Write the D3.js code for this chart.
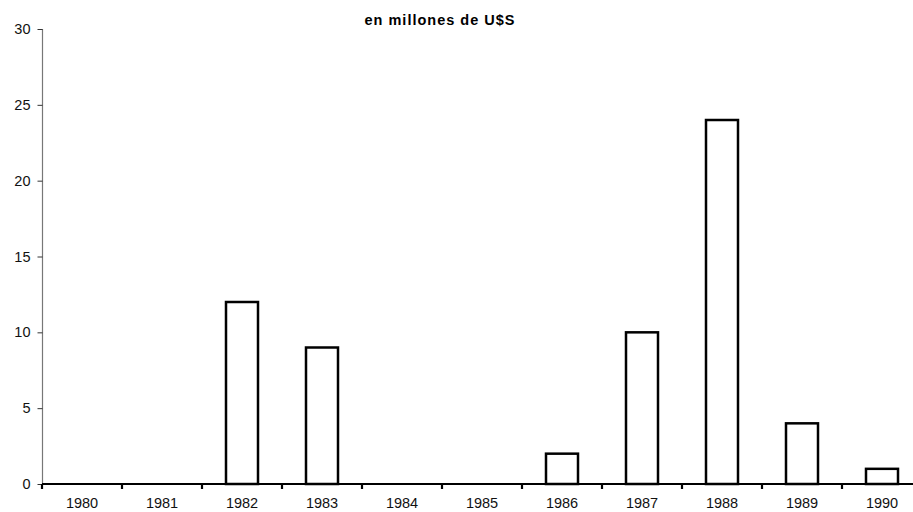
<!DOCTYPE html>
<html><head><meta charset="utf-8">
<script src="https://cdn.jsdelivr.net/npm/d3@7"></script>
<style>body{margin:0;background:#fff}svg{display:block}</style>
</head><body>
<svg id="c" width="913" height="512"></svg>
<script>
const years = ["1980","1981","1982","1983","1984","1985","1986","1987","1988","1989","1990"];
const values = [0,0,12,9,0,0,2,10,24,4,1];
const yTicks = [0,5,10,15,20,25,30];
const subtitle = "en millones de U$S";

const svg = d3.select("#c");
const x = d3.scaleBand().domain(years).range([42, 922]).padding(0);
const y = d3.scaleLinear().domain([0, 30]).range([484, 29]);
const font = "'Liberation Sans', Arial, Helvetica, sans-serif";

svg.append("text").attr("x", 440).attr("y", 25).attr("text-anchor", "middle")
  .attr("font-family", font).attr("font-weight", "bold").attr("font-size", 14.5)
  .attr("letter-spacing", 1)
  .text(subtitle);

// y axis
const ya = svg.append("g").attr("transform", "translate(42.5,0)")
  .call(d3.axisLeft(y).tickValues(yTicks).tickSize(5).tickPadding(7));
ya.select(".domain").attr("stroke", "#777").attr("stroke-width", 1.2).attr("d", `M0,${y(30)}V${y(0)}`);
ya.selectAll(".tick line").attr("stroke", "#333");
ya.selectAll("text").attr("font-family", font).attr("font-size", 14.5).attr("fill", "#111");

// bars
svg.append("g").selectAll("rect").data(years.map((d,i)=>({year:d, v:values[i]})).filter(d=>d.v>0))
  .join("rect")
  .attr("x", d => x(d.year) + x.bandwidth()*0.3)
  .attr("width", x.bandwidth()*0.4)
  .attr("y", d => y(d.v))
  .attr("height", d => y(0) - y(d.v))
  .attr("fill", "#fff").attr("stroke", "#000").attr("stroke-width", 2.5);

// x axis
const xa = svg.append("g").attr("transform", `translate(0,${y(0)})`)
  .call(d3.axisBottom(x).tickSize(0).tickPadding(14));
xa.select(".domain").attr("stroke", "#000").attr("stroke-width", 2.2).attr("d", "M42,0H922");
xa.selectAll("text").attr("font-family", font).attr("font-size", 14.5).attr("fill", "#111");
// boundary ticks
xa.selectAll(".btick").data(years).join("line").attr("class","btick")
  .attr("x1", d => x(d)).attr("x2", d => x(d)).attr("y1", 0).attr("y2", 5)
  .attr("stroke", "#000").attr("stroke-width", 2.2);
</script>
</body></html>
